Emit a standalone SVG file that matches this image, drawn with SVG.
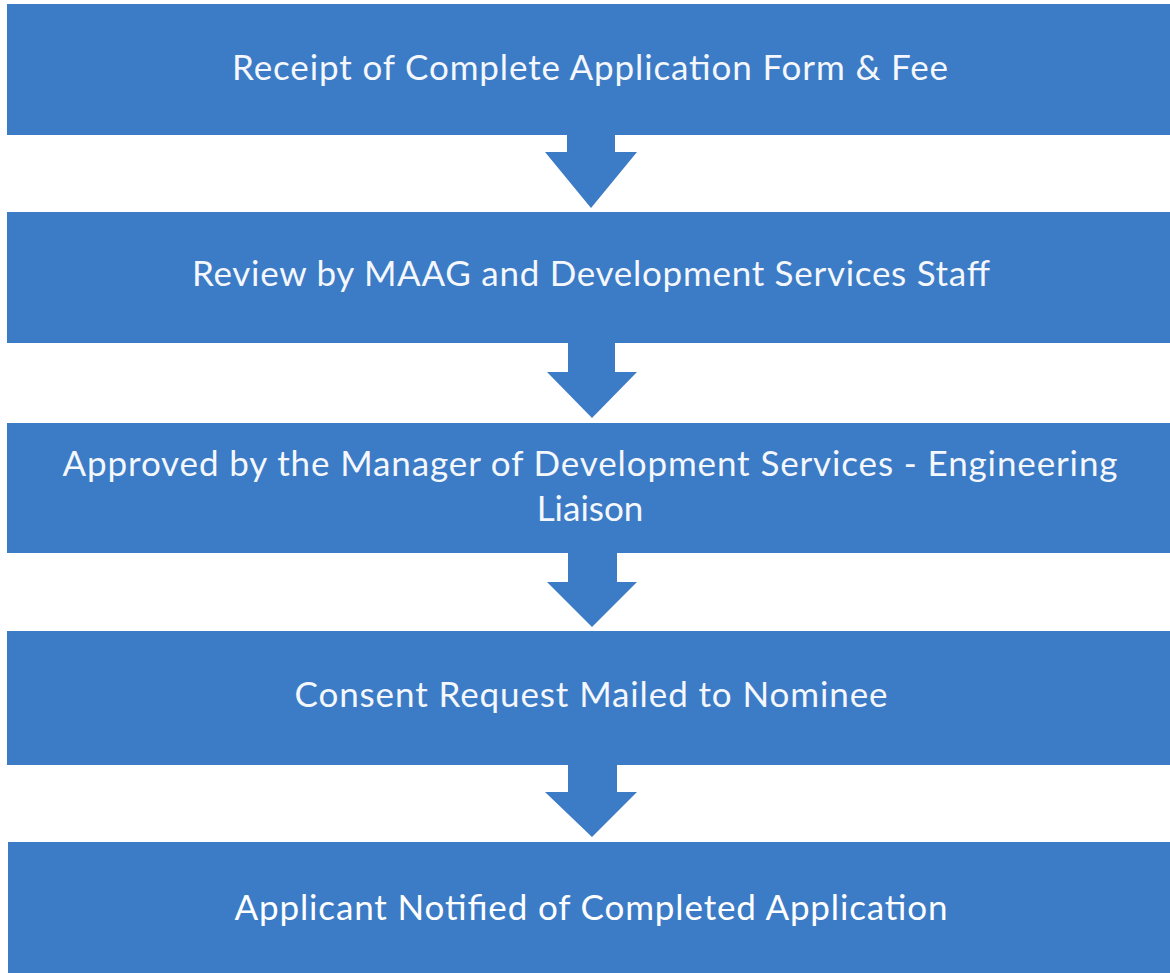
<svg xmlns="http://www.w3.org/2000/svg" width="1170" height="973" viewBox="0 0 1170 973">
<style>
.box{fill:#3c7bc6}
.arr{fill:#3c7bc6}
.t{font-family:Lato,"Open Sans","Liberation Sans",sans-serif;font-size:35px;fill:#f4f7fb;text-anchor:middle}
</style>
<rect width="1170" height="973" fill="#ffffff"/>
<g id="connectors">
<polygon class="arr" points="567,130 615,130 615,152 637,152 591,208 545,152 567,152"/>
<polygon class="arr" points="568,340 615,340 615,372 637,372 592,418 547,372 568,372"/>
<polygon class="arr" points="568,550 617,550 617,582 637,582 592,627 547,582 568,582"/>
<polygon class="arr" points="568,760 617,760 617,792 637,792 592,837 545,792 568,792"/>
</g>
<g id="n1"><rect class="box" x="7" y="4" width="1163" height="131"/><text class="t" x="590" y="80" textLength="716">Receipt of Complete Application Form &amp; Fee</text></g>
<g id="n2"><rect class="box" x="7" y="212" width="1163" height="131"/><text class="t" x="591" y="286" textLength="798">Review by MAAG and Development Services Staff</text></g>
<g id="n3"><rect class="box" x="7" y="423" width="1163" height="130"/><text class="t" x="590" y="476" textLength="1055">Approved by the Manager of Development Services - Engineering</text><text class="t" x="590" y="521">Liaison</text></g>
<g id="n4"><rect class="box" x="7" y="631" width="1163" height="134"/><text class="t" x="591" y="707" textLength="593">Consent Request Mailed to Nominee</text></g>
<g id="n5"><rect class="box" x="8" y="842" width="1162" height="131"/><text class="t" x="591" y="920" textLength="713" style="fill:#ffffff">Applicant Notified of Completed Application</text></g>
</svg>
